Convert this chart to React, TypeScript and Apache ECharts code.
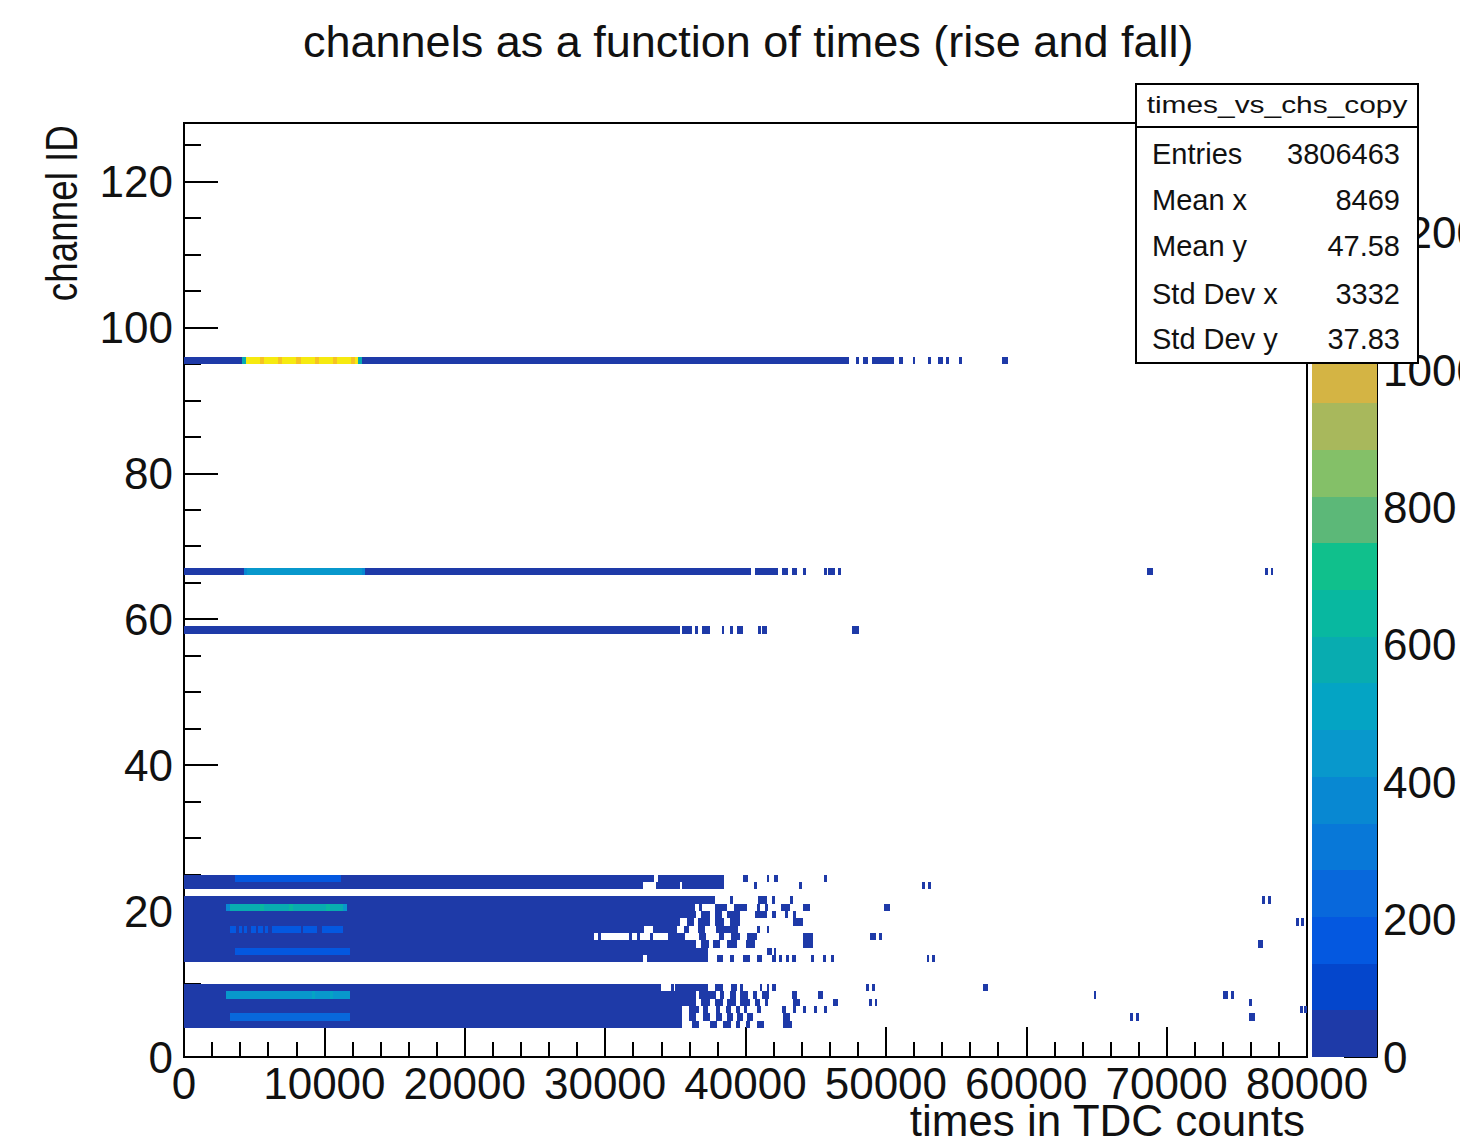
import React, { useEffect, useRef } from "react";
import * as echarts from "echarts";

// ---------- texts ----------
const TITLE = "channels as a function of times (rise and fall)";
const X_TITLE = "times in TDC counts";
const Y_TITLE = "channel ID";
const STATS_TITLE = "times_vs_chs_copy";
const statsLabels = ["Entries", "Mean x", "Mean y", "Std Dev x", "Std Dev y"];
const statsValues = ["3806463", "8469", "47.58", "3332", "37.83"];

// ---------- axes ----------
const X_MIN = 0;
const X_MAX = 80000;
const X_STEP = 10000;
const Y_MIN = 0;
const Y_MAX = 128;
const Y_STEP = 20;
const Z_MAX = 1360;
const Z_STEP = 200;

// colour palette (20 contours, bottom to top)
const PALETTE = [
  "#1e3aa8", "#0446cc", "#0458e0", "#0868dc", "#0878d8",
  "#0888d2", "#0898cc", "#04a4c4", "#08acb0", "#08b8a0",
  "#10c08c", "#5cb878", "#84c068", "#a8b85c", "#d4b444",
  "#e6b63a", "#f0bc30", "#f6c222", "#f8d618", "#f6ea10",
];

// ---------- histogram cells: [channel, xStart, xEnd, count] ----------
const lowerBlock: number[][] = [
  [9, 0, 34000, 30], [9, 34700, 34900, 30], [9, 35000, 37300, 30], [9, 37800, 38400, 30], [9, 39000, 39400, 30],
  [9, 39600, 39800, 30], [9, 41000, 41200, 30], [9, 41500, 41700, 30], [9, 41900, 42200, 30], [9, 48600, 48800, 30],
  [9, 49000, 49200, 30], [9, 56900, 57300, 30],
  [8, 0, 36500, 30], [8, 36700, 37900, 30], [8, 38200, 38500, 30], [8, 38900, 39300, 30], [8, 39600, 40200, 30],
  [8, 40500, 40800, 30], [8, 41200, 41700, 30], [8, 43300, 43700, 30], [8, 45200, 45500, 30], [8, 64800, 65000, 30],
  [8, 74000, 74400, 30], [8, 74600, 74800, 30],
  [7, 0, 36500, 30], [7, 36800, 37500, 30], [7, 37800, 38400, 30], [7, 38700, 39300, 30], [7, 39600, 40300, 30],
  [7, 40700, 41000, 30], [7, 41400, 41600, 30], [7, 43400, 43900, 30], [7, 46200, 46600, 30], [7, 48800, 49000, 30],
  [7, 49200, 49400, 30], [7, 75900, 76100, 30],
  [6, 0, 35500, 30], [6, 36000, 36700, 30], [6, 37000, 37300, 30], [6, 37900, 38200, 30], [6, 38600, 39000, 30],
  [6, 39300, 39600, 30], [6, 39900, 40100, 30], [6, 40800, 41100, 30], [6, 42600, 42900, 30], [6, 43400, 43600, 30],
  [6, 44100, 44300, 30], [6, 44900, 45100, 30], [6, 45600, 45800, 30], [6, 79500, 79700, 30], [6, 79800, 80000, 30],
  [5, 0, 35500, 30], [5, 36000, 36500, 30], [5, 37000, 37500, 30], [5, 37900, 38300, 30], [5, 38700, 39100, 30],
  [5, 39400, 39800, 30], [5, 40100, 40500, 30], [5, 42700, 43200, 30], [5, 67400, 67600, 30], [5, 67800, 68000, 30],
  [5, 75900, 76300, 30],
  [4, 0, 35500, 30], [4, 36200, 36700, 30], [4, 37500, 38000, 30], [4, 38400, 39000, 30], [4, 39300, 39600, 30],
  [4, 40000, 40300, 30], [4, 40800, 41300, 30], [4, 42700, 43300, 30],
];

const middleBlock: number[][] = [
  [21, 0, 37800, 30], [21, 38900, 39100, 30], [21, 40900, 41500, 30], [21, 41900, 42100, 30], [21, 43200, 43400, 30],
  [21, 76800, 77000, 30], [21, 77200, 77400, 30],
  [20, 0, 36400, 30], [20, 36700, 36900, 30], [20, 37800, 38700, 30], [20, 39200, 40100, 30], [20, 40800, 41000, 30],
  [20, 41400, 41600, 30], [20, 42500, 43200, 30], [20, 44100, 44600, 30], [20, 49900, 50300, 30],
  [19, 0, 36500, 30], [19, 36800, 37500, 30], [19, 37800, 38300, 30], [19, 38700, 39600, 30], [19, 40700, 41500, 30],
  [19, 41900, 42200, 30], [19, 42800, 43000, 30], [19, 43400, 43600, 30],
  [18, 0, 35300, 30], [18, 35800, 36300, 30], [18, 36600, 37500, 30], [18, 37800, 38500, 30], [18, 38900, 39600, 30],
  [18, 43400, 44100, 30], [18, 79200, 79400, 30], [18, 79600, 79800, 30],
  [17, 0, 32800, 30], [17, 33400, 35100, 30], [17, 35600, 36000, 30], [17, 36600, 37100, 30], [17, 37900, 39500, 30],
  [17, 40800, 41000, 30], [17, 41500, 41700, 30],
  [16, 0, 29200, 30], [16, 29500, 29700, 30], [16, 31700, 31900, 30], [16, 32300, 32500, 30], [16, 33200, 33400, 30],
  [16, 34500, 35700, 30], [16, 36700, 37200, 30], [16, 38100, 38500, 30], [16, 39000, 39600, 30], [16, 40100, 40800, 30],
  [16, 44100, 44800, 30], [16, 48900, 49300, 30], [16, 49500, 49700, 30],
  [15, 0, 36500, 30], [15, 36800, 37400, 30], [15, 37700, 38200, 30], [15, 38700, 39400, 30], [15, 40000, 40700, 30],
  [15, 44100, 44800, 30], [15, 76500, 76900, 30],
  [14, 0, 37300, 30], [14, 41500, 41900, 30], [14, 42000, 42200, 30],
  [13, 0, 32700, 30], [13, 33000, 37300, 30], [13, 38000, 38400, 30], [13, 38900, 39200, 30], [13, 39800, 40300, 30],
  [13, 40800, 41200, 30], [13, 41900, 42200, 30], [13, 42400, 42600, 30], [13, 42900, 43100, 30], [13, 43300, 43600, 30],
  [13, 44700, 44900, 30], [13, 45500, 45700, 30], [13, 46100, 46300, 30], [13, 52900, 53100, 30], [13, 53300, 53500, 30],
];

const topBlock: number[][] = [
  [24, 0, 33500, 30], [24, 33800, 38500, 30], [24, 39800, 40200, 30], [24, 41500, 41700, 30], [24, 42000, 42300, 30],
  [24, 45600, 45800, 30],
  [23, 0, 32700, 30], [23, 33600, 35300, 30], [23, 35500, 38500, 30], [23, 40600, 40800, 30], [23, 43800, 44000, 30],
  [23, 52600, 52800, 30], [23, 53000, 53200, 30],
];

const upperLines: number[][] = [
  [95, 0, 47400, 30], [95, 47900, 48100, 30], [95, 48400, 48700, 30], [95, 49000, 50600, 30], [95, 50900, 51200, 30],
  [95, 51900, 52100, 30], [95, 53000, 53200, 30], [95, 53700, 54100, 30], [95, 54300, 54500, 30], [95, 55200, 55400, 30],
  [95, 58300, 58700, 30],
  [66, 0, 40400, 30], [66, 40700, 42300, 30], [66, 42600, 43000, 30], [66, 43300, 43700, 30], [66, 44100, 44300, 30],
  [66, 45600, 45800, 30], [66, 45900, 46400, 30], [66, 46600, 46800, 30], [66, 68600, 69000, 30], [66, 77000, 77200, 30],
  [66, 77400, 77600, 30],
  [58, 0, 35300, 30], [58, 35500, 36200, 30], [58, 36400, 36600, 30], [58, 36900, 37500, 30], [58, 38300, 38500, 30],
  [58, 38900, 39100, 30], [58, 39400, 39800, 30], [58, 40900, 41100, 30], [58, 41200, 41500, 30], [58, 47600, 48100, 30],
];

const hotSpots: number[][] = [
  [95, 4100, 4400, 560], [95, 4400, 12400, 1330], [95, 5400, 5700, 1190], [95, 6700, 7000, 1190],
  [95, 8000, 8300, 1190], [95, 9300, 9600, 1190], [95, 10600, 10900, 1190], [95, 11900, 12200, 1190],
  [95, 12400, 12700, 560],
  [66, 4300, 4500, 380], [66, 4500, 12700, 460], [66, 12700, 12900, 380],
  [24, 3600, 11200, 160],
  [20, 3000, 3300, 400], [20, 3300, 11300, 590], [20, 5400, 5700, 650], [20, 7500, 7800, 650],
  [20, 10100, 10400, 650], [20, 11300, 11600, 430],
  [17, 3300, 3700, 170], [17, 3900, 4100, 170], [17, 4300, 4500, 170], [17, 4800, 5100, 170],
  [17, 5300, 5600, 170], [17, 5800, 6000, 170], [17, 6300, 8300, 170], [17, 8500, 9500, 170],
  [17, 9800, 11300, 170],
  [14, 3600, 11800, 190],
  [8, 3000, 11800, 440], [8, 9100, 9300, 520], [8, 10400, 10600, 520],
  [5, 3300, 11800, 230],
];

const FONT = "'Liberation Sans', Arial, Helvetica, sans-serif";

export default function App() {
  const ref = useRef<HTMLDivElement>(null);

  useEffect(() => {
    document.body.style.margin = "0";
    if (!ref.current) return;
    const chart = echarts.init(ref.current, undefined, { renderer: "svg" });
    const band = Z_MAX / PALETTE.length;
    const colorFor = (v: number) =>
      PALETTE[Math.min(PALETTE.length - 1, Math.max(0, Math.floor(v / band)))];
    const cells = [...lowerBlock, ...middleBlock, ...topBlock, ...upperLines, ...hotSpots];
    const paletteData = PALETTE.map((_, i) => [i, i * band, (i + 1) * band]);
    const plain = (v: number) => String(v);

    const black = "#000";
    const gridBase = { left: 184, top: 123, width: 1123, height: 934, outerBoundsMode: "none", containLabel: false };

    const statsRows: any[] = [];
    const rowY = [154, 200, 246, 294, 339];
    statsLabels.forEach((lab, i) => {
      statsRows.push({
        type: "text", z: 102, x: 1152, y: rowY[i],
        style: { text: lab, fontSize: 29, lineHeight: 32, fontFamily: FONT, fill: "#111", align: "left", textAlign: "left", verticalAlign: "middle", textVerticalAlign: "middle" },
      });
      statsRows.push({
        type: "text", z: 102, x: 1400, y: rowY[i],
        style: { text: statsValues[i], fontSize: 29, lineHeight: 32, fontFamily: FONT, fill: "#111", align: "right", textAlign: "right", verticalAlign: "middle", textVerticalAlign: "middle" },
      });
    });

    const option: any = {
      animation: false,
      backgroundColor: "#ffffff",
      textStyle: { fontFamily: FONT },
      title: {
        text: TITLE, left: 298, top: 14,
        textStyle: { fontFamily: FONT, fontSize: 45, fontWeight: "normal", color: "#111" },
      },
      grid: [
        { ...gridBase, show: true, borderColor: black, borderWidth: 2, backgroundColor: "transparent" },
        { left: 1312, top: 123, width: 65, height: 934, show: false, outerBoundsMode: "none", containLabel: false },
        { ...gridBase, show: false },
      ],
      xAxis: [
        {
          type: "value", gridIndex: 0, min: X_MIN, max: X_MAX, interval: X_STEP,
          axisLine: { show: true, onZero: false, lineStyle: { color: black, width: 2 } },
          axisTick: { show: true, inside: true, length: 30, lineStyle: { color: black, width: 2 } },
          minorTick: { show: true, splitNumber: 5, length: 15, lineStyle: { color: black, width: 2 } },
          splitLine: { show: false }, minorSplitLine: { show: false },
          axisLabel: { show: true, margin: 9, fontSize: 44, lineHeight: 34, color: "#111", fontFamily: FONT, showMinLabel: true, showMaxLabel: true, formatter: plain },
        },
        { type: "value", gridIndex: 1, min: 0, max: 1, show: false },
        { type: "value", gridIndex: 2, min: X_MIN, max: X_MAX, show: false },
      ],
      yAxis: [
        {
          type: "value", gridIndex: 0, min: Y_MIN, max: Y_MAX, interval: Y_STEP, position: "left",
          axisLine: { show: true, onZero: false, lineStyle: { color: black, width: 2 } },
          axisTick: { show: true, inside: true, length: 34, lineStyle: { color: black, width: 2 } },
          splitLine: { show: false },
          axisLabel: { show: true, margin: 11, fontSize: 44, color: "#111", fontFamily: FONT, showMinLabel: true, showMaxLabel: false, formatter: plain },
        },
        {
          type: "value", gridIndex: 1, min: 0, max: Z_MAX, interval: Z_STEP, position: "right",
          axisLine: { show: true, onZero: false, lineStyle: { color: black, width: 2 } },
          axisTick: { show: true, inside: true, length: 33, lineStyle: { color: black, width: 2 } },
          splitLine: { show: false },
          axisLabel: { show: true, margin: 6, fontSize: 44, lineHeight: 34, color: "#111", fontFamily: FONT, showMinLabel: true, showMaxLabel: false, formatter: plain },
        },
        {
          type: "value", gridIndex: 2, min: Y_MIN, max: Y_MAX, interval: 5, position: "left",
          axisLine: { show: false },
          axisTick: { show: true, inside: true, length: 17, lineStyle: { color: black, width: 2 } },
          splitLine: { show: false },
          axisLabel: { show: false },
        },
      ],
      series: [
        {
          type: "custom", name: "times_vs_chs_copy", xAxisIndex: 0, yAxisIndex: 0, clip: true,
          data: cells, encode: { x: [1, 2], y: 0 },
          renderItem: (_p: any, api: any) => {
            const ch = api.value(0) as number;
            const x0 = api.value(1) as number;
            const x1 = api.value(2) as number;
            const v = api.value(3) as number;
            const a = api.coord([x0, ch + 1]);
            const b = api.coord([x1, ch]);
            const left = Math.round(a[0]);
            const top = Math.round(a[1]);
            const right = Math.max(left + 2, Math.round(b[0]));
            const bottom = Math.round(b[1]);
            return {
              type: "rect",
              shape: { x: left, y: top, width: right - left, height: bottom - top },
              style: { fill: colorFor(v) },
            };
          },
        },
        {
          type: "custom", name: "palette", xAxisIndex: 1, yAxisIndex: 1, clip: false,
          data: paletteData, encode: { x: 0, y: [1, 2] },
          renderItem: (_p: any, api: any) => {
            const i = api.value(0) as number;
            const a = api.coord([0, api.value(2) as number]);
            const b = api.coord([1, api.value(1) as number]);
            const top = Math.round(a[1]);
            const bottom = Math.round(b[1]);
            return {
              type: "rect",
              shape: { x: a[0], y: top, width: b[0] - a[0], height: bottom - top },
              style: { fill: PALETTE[i] },
            };
          },
        },
      ],
      graphic: [
        {
          type: "text", z: 100, x: 62, y: 125, rotation: Math.PI / 2, scaleX: 0.82,
          style: { text: Y_TITLE, fontSize: 45, fontFamily: FONT, fill: "#111", align: "right", textAlign: "right", verticalAlign: "middle", textVerticalAlign: "middle" },
        },
        {
          type: "text", z: 100, x: 1305, y: 1120,
          style: { text: X_TITLE, fontSize: 44, lineHeight: 34, fontFamily: FONT, fill: "#111", align: "right", textAlign: "right", verticalAlign: "middle", textVerticalAlign: "middle" },
        },
        {
          type: "rect", z: 100, shape: { x: 1136, y: 84, width: 282, height: 279 },
          style: { fill: "#ffffff", stroke: black, lineWidth: 2 },
        },
        {
          type: "line", z: 101, shape: { x1: 1136, y1: 127, x2: 1418, y2: 127 },
          style: { stroke: black, lineWidth: 2 },
        },
        {
          type: "text", z: 102, x: 1277, y: 105, scaleX: 1.3, originX: 0,
          style: { text: STATS_TITLE, fontSize: 23, fontFamily: FONT, fill: "#111", align: "center", textAlign: "center", verticalAlign: "middle", textVerticalAlign: "middle" },
        },
        ...statsRows,
      ],
    };

    chart.setOption(option);
    return () => chart.dispose();
  }, []);

  return (
    <div
      ref={ref}
      style={{ position: "absolute", left: 0, top: 0, width: 1460, height: 1138 }}
    />
  );
}
